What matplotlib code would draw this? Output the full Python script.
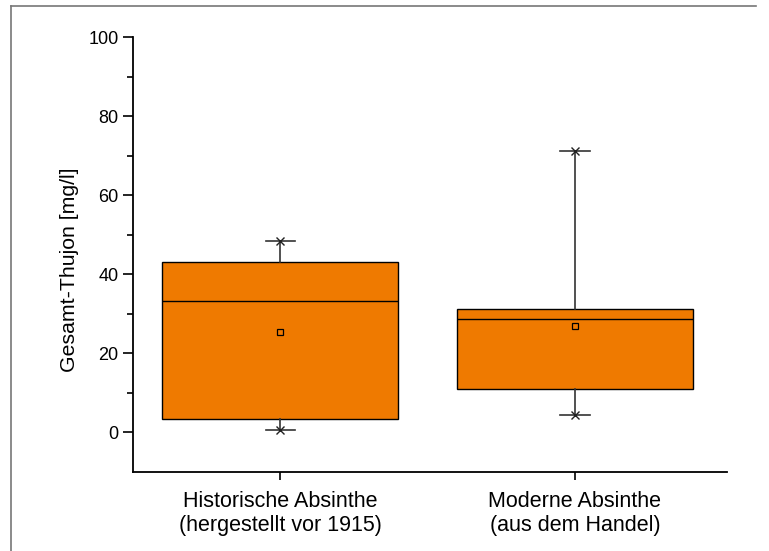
import numpy as np
import matplotlib.pyplot as plt
from matplotlib.lines import Line2D

# box statistics (mg/l)
labels = ["Historische Absinthe\n(hergestellt vor 1915)", "Moderne Absinthe\n(aus dem Handel)"]
q1 = [3.5, 10.9]
med = [33.3, 28.8]
q3 = [43.2, 31.1]
whislo = [0.5, 4.3]
whishi = [48.5, 71.2]
means = [25.5, 27.0]

plt.rcParams['font.family'] = ['Liberation Sans', 'DejaVu Sans']

fig = plt.figure(figsize=(7.69, 5.51), dpi=100)
ax = fig.add_axes([0.173, 0.1434, 0.772, 0.7894])

stats = []
for i in range(len(labels)):
    stats.append({'q1': q1[i], 'med': med[i], 'q3': q3[i],
                  'whislo': whislo[i], 'whishi': whishi[i],
                  'mean': means[i], 'fliers': []})

pos = np.arange(1, len(labels) + 1)
orange = '#EF7A00'
ax.bxp(stats, positions=pos, widths=0.8, patch_artist=True, showmeans=True,
       boxprops=dict(facecolor=orange, edgecolor='black', linewidth=1.0),
       medianprops=dict(color='black', linewidth=1.0),
       whiskerprops=dict(color='#333333', linewidth=1.2),
       capprops=dict(color='#333333', linewidth=1.2),
       capwidths=0.1,
       meanprops=dict(marker='s', markersize=4.5, markerfacecolor=orange,
                      markeredgecolor='black', markeredgewidth=0.9))

# x markers at whisker ends
ax.plot(pos, whishi, 'x', color='#222222', markersize=6, mew=1.0)
ax.plot(pos, whislo, 'x', color='#222222', markersize=6, mew=1.0)

ax.set_xlim(0.5, 2.515)
ax.set_ylim(-10, 100)
ax.set_xticks(pos)
ax.set_xticklabels(labels, fontsize=15.5, linespacing=1.15)
ax.set_yticks([0, 20, 40, 60, 80, 100])
ax.set_yticks([10, 30, 50, 70, 90], minor=True)
ax.tick_params(axis='y', which='major', length=7, width=1.2, labelsize=13, direction='out')
ax.tick_params(axis='y', which='minor', length=4, width=1.2, direction='out')
ax.tick_params(axis='x', length=6, width=1.2, pad=8)
ax.set_ylabel("Gesamt-Thujon [mg/l]", fontsize=15.3)
ax.yaxis.set_label_coords(-0.091, 0.464)

for side in ['top', 'right']:
    ax.spines[side].set_visible(False)
for side in ['left', 'bottom']:
    ax.spines[side].set_linewidth(1.3)

# frame lines at left and top of the image
fig.add_artist(Line2D([11 / 769, 11 / 769], [0, 1 - 6 / 551], color='#777777', lw=1.2))
fig.add_artist(Line2D([11 / 769, 756 / 769], [1 - 6 / 551, 1 - 6 / 551], color='#777777', lw=1.2))

fig.savefig("out.png", dpi=100)
